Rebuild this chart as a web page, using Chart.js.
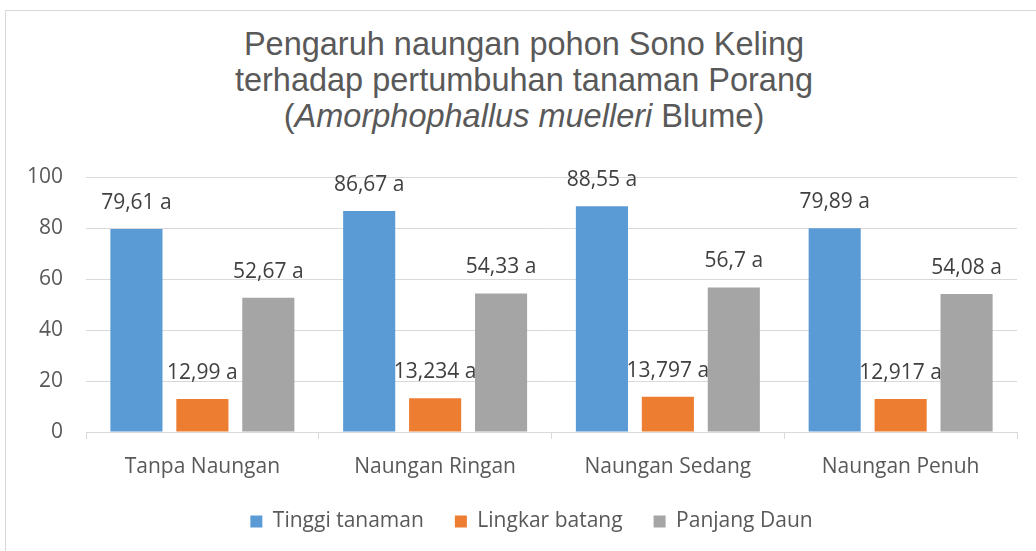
<!DOCTYPE html>
<html>
<head>
<meta charset="utf-8">
<script src="https://cdn.jsdelivr.net/npm/chart.js@4"></script>
<style>
  html, body { margin: 0; padding: 0; background: #fff; }
  body { width: 1036px; height: 551px; overflow: hidden; position: relative; }
  /* chart frame: only top and left edges are visible in the crop */
  .frame {
    position: absolute; left: 5px; top: 10px; width: 1100px; height: 600px;
    border-left: 1px solid #d9d9d9; border-top: 1px solid #d9d9d9;
  }
  .title {
    position: absolute; left: 12px; top: 26px; width: 1024px; text-align: center;
    font-family: 'Liberation Sans', Arial, sans-serif; font-size: 32.5px; line-height: 36px;
    color: #595959;
  }
  #wrap { position: absolute; left: 0; top: 0; width: 1036px; height: 551px; }
</style>
</head>
<body>
<div class="frame"></div>
<div class="title">Pengaruh naungan pohon Sono Keling<br>terhadap pertumbuhan tanaman Porang<br>(<i>Amorphophallus muelleri</i> Blume)</div>
<div id="wrap"><canvas id="chart"></canvas></div>
<script>
/* ── DATA ─────────────────────────────────────────────── */
const categories = ['Tanpa Naungan', 'Naungan Ringan', 'Naungan Sedang', 'Naungan Penuh'];
const tinggi     = [79.61, 86.67, 88.55, 79.89];
const lingkar    = [12.99, 13.234, 13.797, 12.917];
const panjang    = [52.67, 54.33, 56.7, 54.08];
/* printed labels keep the Indonesian decimal comma + notation letter */
const tinggiLbl  = ['79,61 a', '86,67 a', '88,55 a', '79,89 a'];
const lingkarLbl = ['12,99 a', '13,234 a', '13,797 a', '12,917 a'];
const panjangLbl = ['52,67 a', '54,33 a', '56,7 a', '54,08 a'];
const yTicks     = [0, 20, 40, 60, 80, 100];

const TEXT = '#595959';
const FONT = "'Open Sans', sans-serif";

/* draw the value label above each bar */
const barLabels = {
  id: 'barLabels',
  afterDatasetsDraw(chart) {
    const ctx = chart.ctx;
    ctx.save();
    ctx.font = `21px ${FONT}`;
    ctx.fillStyle = '#404040';
    ctx.textAlign = 'center';
    ctx.textBaseline = 'middle';
    chart.data.datasets.forEach((ds, i) => {
      chart.getDatasetMeta(i).data.forEach((bar, j) => {
        ctx.fillText(ds.labelsText[j], bar.x, bar.y - 26);
      });
    });
    ctx.restore();
  }
};

/* legend in the original sits a little right of the canvas centre */
const legendShift = {
  id: 'legendShift',
  afterLayout(chart) {
    chart.legend.left += 23;
    chart.legend.right += 23;
  }
};

const ctx = document.getElementById('chart').getContext('2d');
new Chart(ctx, {
  type: 'bar',
  data: {
    labels: categories,
    datasets: [
      { label: 'Tinggi tanaman', data: tinggi,  backgroundColor: '#5B9BD5', labelsText: tinggiLbl },
      { label: 'Lingkar batang', data: lingkar, backgroundColor: '#ED7D31', labelsText: lingkarLbl },
      { label: 'Panjang Daun',   data: panjang, backgroundColor: '#A5A5A5', labelsText: panjangLbl },
    ],
  },
  options: {
    responsive: true,
    maintainAspectRatio: false,
    animation: false,
    datasets: { bar: { categoryPercentage: 0.85, barPercentage: 0.79 } },
    layout: { padding: { top: 177, right: 19, left: 0, bottom: 9 } },
    plugins: {
      title: { display: false },
      tooltip: { enabled: false },
      legend: {
        position: 'bottom',
        labels: {
          color: TEXT,
          font: { family: FONT, size: 21 },
          boxWidth: 12,
          boxHeight: 12,
          padding: 31,
        },
      },
    },
    scales: {
      x: {
        afterFit: (scale) => { scale.height = 48; },
        grid: { drawOnChartArea: false, drawTicks: true, tickLength: 7, color: '#d9d9d9' },
        border: { color: '#d9d9d9' },
        ticks: { color: TEXT, font: { family: FONT, size: 21 }, padding: 15, maxRotation: 0 },
      },
      y: {
        min: 0,
        max: 100,
        afterBuildTicks: (scale) => { scale.ticks = yTicks.map(v => ({ value: v })); },
        afterFit: (scale) => { scale.width = 86; },
        grid: { color: '#d9d9d9', drawTicks: false },
        border: { display: false },
        ticks: { color: TEXT, font: { family: FONT, size: 21 }, padding: 23 },
      },
    },
  },
  plugins: [barLabels, legendShift],
});
</script>
</body>
</html>
